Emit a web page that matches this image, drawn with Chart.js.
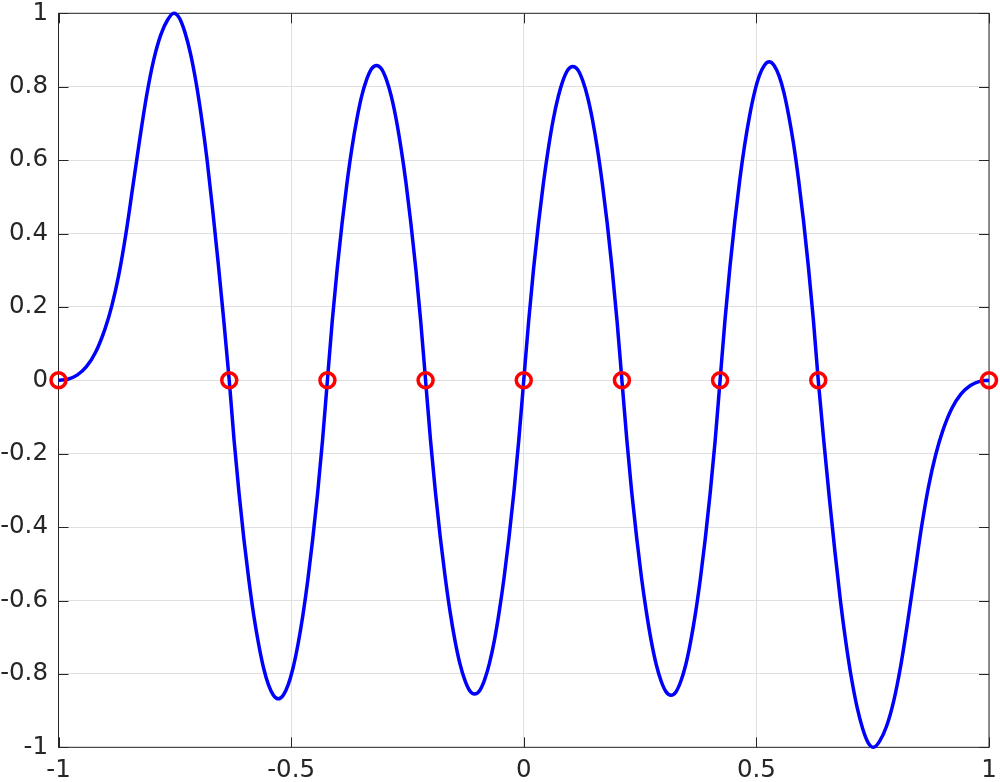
<!DOCTYPE html>
<html>
<head>
<meta charset="utf-8">
<script src="https://cdn.jsdelivr.net/npm/chart.js@4.4.1/dist/chart.umd.min.js"></script>
<style>
  html, body { margin: 0; padding: 0; background: #fff; }
  #wrap { width: 1000px; height: 782px; }
</style>
</head>
<body>
<div id="wrap"><canvas id="grafica" width="1000" height="782"></canvas></div>
<script>
const curveX = [
  -1.000, -0.980, -0.960, -0.940, -0.920, -0.900, -0.885, -0.870, -0.855, -0.840, -0.825, -0.810, -0.795, -0.780, -0.765, -0.752,
  -0.7401, -0.7282, -0.7163, -0.7044, -0.6925, -0.6806, -0.6687, -0.6568, -0.6449,
  -0.633, -0.6225, -0.6119, -0.6014, -0.5908, -0.5803, -0.5697, -0.5592, -0.5486, -0.5381, -0.5275, -0.5170, -0.5064, -0.4959, -0.4853, -0.4748, -0.4642, -0.4537, -0.4431, -0.4326,
  -0.422, -0.4115, -0.4009, -0.3904, -0.3798, -0.3693, -0.3587, -0.3482, -0.3376, -0.3271, -0.3165, -0.3060, -0.2954, -0.2849, -0.2743, -0.2638, -0.2532, -0.2427, -0.2321, -0.2216,
  -0.211, -0.2005, -0.1899, -0.1794, -0.1688, -0.1583, -0.1477, -0.1372, -0.1266, -0.1161, -0.1055, -0.0950, -0.0844, -0.0739, -0.0633, -0.0528, -0.0422, -0.0317, -0.0211, -0.0106,
  0.000, 0.0106, 0.0211, 0.0317, 0.0422, 0.0528, 0.0633, 0.0739, 0.0844, 0.0950, 0.1055, 0.1161, 0.1266, 0.1372, 0.1477, 0.1583, 0.1688, 0.1794, 0.1899, 0.2005,
  0.211, 0.2216, 0.2321, 0.2427, 0.2532, 0.2638, 0.2743, 0.2849, 0.2954, 0.3060, 0.3165, 0.3271, 0.3376, 0.3482, 0.3587, 0.3693, 0.3798, 0.3904, 0.4009, 0.4115,
  0.422, 0.4326, 0.4431, 0.4537, 0.4642, 0.4748, 0.4853, 0.4959, 0.5064, 0.5170, 0.5275, 0.5381, 0.5486, 0.5592, 0.5697, 0.5803, 0.5908, 0.6014, 0.6119, 0.6225,
  0.633, 0.6449, 0.6568, 0.6687, 0.6806, 0.6925, 0.7044, 0.7163, 0.7282, 0.7401,
  0.752, 0.765, 0.780, 0.795, 0.810, 0.825, 0.840, 0.855, 0.870, 0.885, 0.900, 0.920, 0.940, 0.960, 0.980, 1.000
];
const curveY = [
  0.000, 0.003, 0.014, 0.037, 0.077, 0.140, 0.205, 0.290, 0.400, 0.530, 0.660, 0.780, 0.875, 0.942, 0.983, 1.000,
  0.987, 0.948, 0.890, 0.812, 0.715, 0.600, 0.465, 0.320, 0.165,
  0.000, -0.165, -0.308, -0.434, -0.545, -0.641, -0.720, -0.784, -0.830, -0.858, -0.868, -0.858, -0.830, -0.784, -0.720, -0.641, -0.545, -0.434, -0.308, -0.165,
  0.000, 0.163, 0.305, 0.429, 0.539, 0.633, 0.712, 0.775, 0.820, 0.849, 0.858, 0.849, 0.820, 0.775, 0.712, 0.633, 0.539, 0.429, 0.305, 0.163,
  0.000, -0.162, -0.304, -0.428, -0.537, -0.631, -0.710, -0.772, -0.817, -0.846, -0.855, -0.846, -0.817, -0.772, -0.710, -0.631, -0.537, -0.428, -0.304, -0.162,
  0.000, 0.162, 0.304, 0.428, 0.537, 0.631, 0.710, 0.772, 0.817, 0.846, 0.855, 0.846, 0.817, 0.772, 0.710, 0.631, 0.537, 0.428, 0.304, 0.162,
  0.000, -0.163, -0.305, -0.429, -0.539, -0.633, -0.712, -0.775, -0.820, -0.849, -0.858, -0.849, -0.820, -0.775, -0.712, -0.633, -0.539, -0.429, -0.305, -0.163,
  0.000, 0.165, 0.308, 0.434, 0.545, 0.641, 0.720, 0.784, 0.830, 0.858, 0.868, 0.858, 0.830, 0.784, 0.720, 0.641, 0.545, 0.434, 0.308, 0.165,
  0.000, -0.165, -0.320, -0.465, -0.600, -0.715, -0.812, -0.890, -0.948, -0.987,
  -1.000, -0.983, -0.942, -0.875, -0.780, -0.660, -0.530, -0.400, -0.290, -0.205, -0.140, -0.077, -0.037, -0.014, -0.003, 0.000
];

// ceros marcados con circulos rojos
const zeroX = [-1, -0.633, -0.422, -0.211, 0, 0.211, 0.422, 0.633, 1];
const zeroY = [0, 0, 0, 0, 0, 0, 0, 0, 0];

// ticks
const xTickValues = [-1, -0.5, 0, 0.5, 1];
const xTickLabels = ["-1", "-0.5", "0", "0.5", "1"];
const yTickValues = [-1, -0.8, -0.6, -0.4, -0.2, 0, 0.2, 0.4, 0.6, 0.8, 1];
const yTickLabels = ["-1", "-0.8", "-0.6", "-0.4", "-0.2", "0", "0.2", "0.4", "0.6", "0.8", "1"];

const AXIS_COLOR = "#262626";
const GRID_COLOR = "#dfdfdf";
const fuente = { family: "DejaVu Sans", size: 24.5 };

// sin padding extra de las etiquetas, el area la fija layout.padding
function sinPadding(s) {
  s.paddingLeft = 0; s.paddingRight = 0; s.paddingTop = 0; s.paddingBottom = 0;
}

// caja estilo matlab con ticks hacia adentro
const cajaPlugin = {
  id: "caja",
  beforeDatasetsDraw(chart) {
    const { ctx, chartArea: a, scales } = chart;
    const len = 10;
    ctx.save();
    ctx.strokeStyle = AXIS_COLOR;
    ctx.lineWidth = 1;
    ctx.beginPath();
    xTickValues.forEach(v => {
      const px = Math.round(scales.x.getPixelForValue(v)) + 0.5;
      ctx.moveTo(px, a.bottom); ctx.lineTo(px, a.bottom - len);
      ctx.moveTo(px, a.top); ctx.lineTo(px, a.top + len);
    });
    yTickValues.forEach(v => {
      const py = Math.round(scales.y.getPixelForValue(v)) + 0.5;
      ctx.moveTo(a.left, py); ctx.lineTo(a.left + len, py);
      ctx.moveTo(a.right, py); ctx.lineTo(a.right - len, py);
    });
    ctx.stroke();
    ctx.strokeRect(a.left, a.top, a.right - a.left, a.bottom - a.top);
    ctx.restore();
  }
};

const ctx = document.getElementById("grafica").getContext("2d");
new Chart(ctx, {
  type: "scatter",
  data: {
    datasets: [
      {
        label: "ceros",
        data: zeroX.map((x, i) => ({ x, y: zeroY[i] })),
        showLine: false,
        pointStyle: "circle",
        pointRadius: 7.5,
        pointBorderWidth: 3.5,
        pointBorderColor: "#ff0000",
        pointBackgroundColor: "rgba(0,0,0,0)",
        clip: false,
        order: 0
      },
      {
        label: "curva",
        data: curveX.map((x, i) => ({ x, y: curveY[i] })),
        showLine: true,
        borderColor: "#0000ff",
        borderWidth: 3.5,
        pointRadius: 0,
        cubicInterpolationMode: "monotone",
        fill: false,
        clip: false,
        order: 1
      }
    ]
  },
  options: {
    responsive: false,
    animation: false,
    layout: { padding: { top: 13.3, right: 10.5, left: 0, bottom: 0 } },
    plugins: { legend: { display: false }, tooltip: { enabled: false } },
    scales: {
      x: {
        type: "linear",
        min: -1, max: 1,
        afterBuildTicks: s => { s.ticks = xTickValues.map(v => ({ value: v })); },
        afterFit: s => { s.height = 34.7; sinPadding(s); },
        grid: { color: GRID_COLOR, drawTicks: false },
        border: { display: false },
        ticks: {
          color: AXIS_COLOR, font: fuente, padding: 9, maxRotation: 0, autoSkip: false,
          callback: v => xTickLabels[xTickValues.indexOf(v)]
        }
      },
      y: {
        type: "linear",
        min: -1, max: 1,
        afterBuildTicks: s => { s.ticks = yTickValues.map(v => ({ value: v })); },
        afterFit: s => { s.width = 58.5; sinPadding(s); },
        grid: { color: GRID_COLOR, drawTicks: false },
        border: { display: false },
        ticks: {
          color: AXIS_COLOR, font: fuente, padding: 10.5, autoSkip: false,
          callback: v => yTickLabels[yTickValues.indexOf(v)]
        }
      }
    }
  },
  plugins: [cajaPlugin]
});
</script>
</body>
</html>
